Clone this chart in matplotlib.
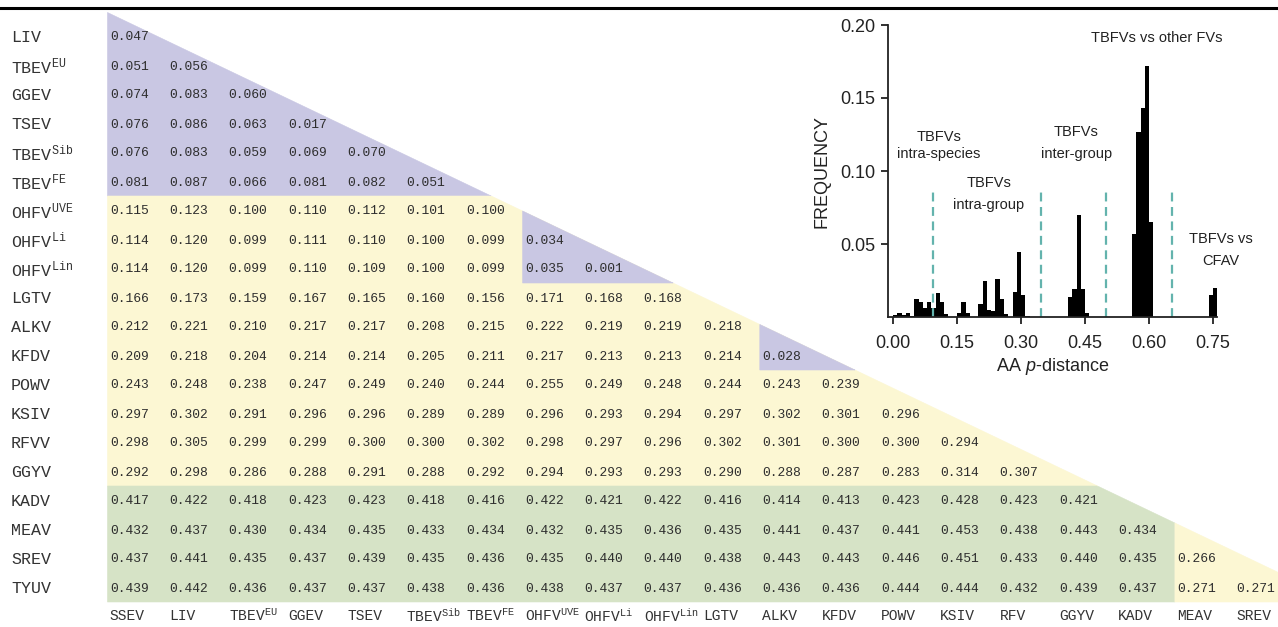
import numpy as np
import matplotlib
matplotlib.use("Agg")
import matplotlib.pyplot as plt

plt.rcParams['font.family'] = ['Liberation Sans', 'DejaVu Sans']
plt.rcParams['mathtext.fontset'] = 'custom'
plt.rcParams['mathtext.rm'] = 'Liberation Sans'
plt.rcParams['mathtext.it'] = 'Liberation Sans:italic'
plt.rcParams['mathtext.tt'] = 'Liberation Mono'

# row / column names of the distance matrix
row_names = ['LIV', 'TBEV$^{\\mathtt{EU}}$', 'GGEV', 'TSEV', 'TBEV$^{\\mathtt{Sib}}$', 'TBEV$^{\\mathtt{FE}}$',
	'OHFV$^{\\mathtt{UVE}}$', 'OHFV$^{\\mathtt{Li}}$', 'OHFV$^{\\mathtt{Lin}}$', 'LGTV', 'ALKV', 'KFDV', 'POWV',
	'KSIV', 'RFVV', 'GGYV', 'KADV', 'MEAV', 'SREV', 'TYUV']
col_names = ['SSEV', 'LIV', 'TBEV$^{\\mathtt{EU}}$', 'GGEV', 'TSEV', 'TBEV$^{\\mathtt{Sib}}$', 'TBEV$^{\\mathtt{FE}}$',
	'OHFV$^{\\mathtt{UVE}}$', 'OHFV$^{\\mathtt{Li}}$', 'OHFV$^{\\mathtt{Lin}}$', 'LGTV', 'ALKV', 'KFDV', 'POWV',
	'KSIV', 'RFV', 'GGYV', 'KADV', 'MEAV', 'SREV']

# lower triangle of AA p-distances, one list per row
p_dist = [
	[0.047],
	[0.051, 0.056],
	[0.074, 0.083, 0.060],
	[0.076, 0.086, 0.063, 0.017],
	[0.076, 0.083, 0.059, 0.069, 0.070],
	[0.081, 0.087, 0.066, 0.081, 0.082, 0.051],
	[0.115, 0.123, 0.100, 0.110, 0.112, 0.101, 0.100],
	[0.114, 0.120, 0.099, 0.111, 0.110, 0.100, 0.099, 0.034],
	[0.114, 0.120, 0.099, 0.110, 0.109, 0.100, 0.099, 0.035, 0.001],
	[0.166, 0.173, 0.159, 0.167, 0.165, 0.160, 0.156, 0.171, 0.168, 0.168],
	[0.212, 0.221, 0.210, 0.217, 0.217, 0.208, 0.215, 0.222, 0.219, 0.219, 0.218],
	[0.209, 0.218, 0.204, 0.214, 0.214, 0.205, 0.211, 0.217, 0.213, 0.213, 0.214, 0.028],
	[0.243, 0.248, 0.238, 0.247, 0.249, 0.240, 0.244, 0.255, 0.249, 0.248, 0.244, 0.243, 0.239],
	[0.297, 0.302, 0.291, 0.296, 0.296, 0.289, 0.289, 0.296, 0.293, 0.294, 0.297, 0.302, 0.301, 0.296],
	[0.298, 0.305, 0.299, 0.299, 0.300, 0.300, 0.302, 0.298, 0.297, 0.296, 0.302, 0.301, 0.300, 0.300, 0.294],
	[0.292, 0.298, 0.286, 0.288, 0.291, 0.288, 0.292, 0.294, 0.293, 0.293, 0.290, 0.288, 0.287, 0.283, 0.314, 0.307],
	[0.417, 0.422, 0.418, 0.423, 0.423, 0.418, 0.416, 0.422, 0.421, 0.422, 0.416, 0.414, 0.413, 0.423, 0.428, 0.423, 0.421],
	[0.432, 0.437, 0.430, 0.434, 0.435, 0.433, 0.434, 0.432, 0.435, 0.436, 0.435, 0.441, 0.437, 0.441, 0.453, 0.438, 0.443, 0.434],
	[0.437, 0.441, 0.435, 0.437, 0.439, 0.435, 0.436, 0.435, 0.440, 0.440, 0.438, 0.443, 0.443, 0.446, 0.451, 0.433, 0.440, 0.435, 0.266],
	[0.439, 0.442, 0.436, 0.437, 0.437, 0.438, 0.436, 0.438, 0.437, 0.437, 0.436, 0.436, 0.436, 0.444, 0.444, 0.432, 0.439, 0.437, 0.271, 0.271],
]

# shaded groups: (first row, last row + 1, first col, last col + 1, colour)
groups = [
	(-1, 6, 0, 20, '#c9c7e3'),
	(6, 16, 0, 20, '#fcf7d3'),
	(6, 9, 7, 20, '#c9c7e3'),
	(10, 12, 11, 20, '#c9c7e3'),
	(16, 20, 0, 18, '#d6e3c6'),
	(16, 20, 18, 20, '#fcf7d3'),
]

# inset histogram (bin left edge, frequency)
hist_left = [0.00, 0.01, 0.02, 0.03, 0.04, 0.05, 0.06, 0.07, 0.08, 0.09, 0.10, 0.11, 0.12,
	0.15, 0.16, 0.17, 0.20, 0.21, 0.22, 0.23, 0.24, 0.25, 0.26, 0.28, 0.29, 0.30, 0.31,
	0.41, 0.42, 0.43, 0.44, 0.45, 0.56, 0.57, 0.58, 0.59, 0.60, 0.74, 0.75]
hist_freq = [0.0015, 0.0027, 0.0015, 0.003, 0.001, 0.012, 0.0105, 0.0065, 0.010, 0.006, 0.0167, 0.0105, 0.002,
	0.003, 0.0105, 0.003, 0.009, 0.0247, 0.005, 0.004, 0.026, 0.012, 0.002, 0.017, 0.0447, 0.015, 0.001,
	0.0137, 0.019, 0.070, 0.019, 0.003, 0.057, 0.127, 0.143, 0.172, 0.065, 0.015, 0.020]
cutoffs = [0.094, 0.347, 0.499, 0.654]
region_labels = ['TBFVs vs other FVs', 'TBFVs\nintra-species', 'TBFVs\nintra-group', 'TBFVs\ninter-group', 'TBFVs vs\nCFAV']


def draw_table(fig):
	W, H = 1278.0, 627.0
	cw, rh = 59.3, 29.0
	x0, top, bottom = 107.0, 12.0, 601.5
	ax = fig.add_axes([x0 / W, 1 - bottom / H, (W - x0) / W, (bottom - top) / H])
	ax.set_xlim(0, (W - x0) / cw)
	ymin = -(21.5 - top) / rh
	ax.set_ylim(20, ymin)
	ax.axis('off')

	slope = 0.978
	for r0, r1, c0, c1, col in groups:
		x = np.linspace(c0, c1, 600)
		y_top = np.maximum(r0, ymin + slope * x)
		ax.fill_between(x, y_top, r1, where=y_top < r1, interpolate=True, color=col, lw=0.4, ec=col)

	mono = 'Liberation Mono'
	for i, row in enumerate(p_dist):
		for j, v in enumerate(row):
			ax.text(j + 0.05, i + 0.5, '%.3f' % v, ha='left', va='center_baseline',
				fontsize=9.4, family=mono, color='#2e2e2e')
	for i, name in enumerate(row_names):
		ax.text(-1.62, i + 0.5, name, ha='left', va='center_baseline', fontsize=12, family=mono, color='#333333')
	for j, name in enumerate(col_names):
		ax.text(j + 0.05, 20.45, name, ha='left', va='center_baseline', fontsize=10.5, family=mono, color='#333333')


def draw_inset(fig):
	W, H = 1278.0, 627.0
	ax = fig.add_axes([888 / W, 1 - 317 / H, (1217 - 888) / W, (317 - 25) / H])
	ax.patch.set_alpha(0)
	ax.bar(hist_left, hist_freq, width=0.01, align='edge', color='black', lw=0)
	ax.vlines(cutoffs, 0, 0.088, colors='#63b3ad', linestyles=(0, (4, 2.5)), lw=1.6)
	ax.set_xlim(-0.0117, 0.759)
	ax.set_ylim(0, 0.20)
	for s in ['top', 'right']:
		ax.spines[s].set_visible(False)
	for s in ['left', 'bottom']:
		ax.spines[s].set_linewidth(1.3)
		ax.spines[s].set_color('#222222')
	ax.set_xticks([0, 0.15, 0.30, 0.45, 0.60, 0.75])
	ax.set_xticklabels(['0.00', '0.15', '0.30', '0.45', '0.60', '0.75'])
	ax.set_yticks([0.05, 0.10, 0.15, 0.20])
	ax.set_yticklabels(['0.05', '0.10', '0.15', '0.20'])
	ax.tick_params(labelsize=13, length=5, width=1.3, pad=4, colors='#222222')
	ax.tick_params(axis='x', pad=8)
	ax.set_ylabel('FREQUENCY', fontsize=13, labelpad=7, color='#222222')
	ax.set_xlabel('AA $\\mathit{p}$-distance', fontsize=13, labelpad=3, color='#222222')

	pos = [(0.617, 0.191, 1.2), (0.108, 0.1175, 1.2), (0.225, 0.084, 1.75), (0.429, 0.119, 1.75), (0.769, 0.046, 1.75)]
	for txt, (x, y, ls) in zip(region_labels, pos):
		ax.text(x, y, txt, ha='center', va='center', fontsize=10.5, linespacing=ls, color='#222222')


def main():
	fig = plt.figure(figsize=(12.78, 6.27), dpi=100)
	draw_table(fig)
	draw_inset(fig)
	fig.add_artist(plt.Line2D([0, 1], [1 - 8 / 627.0] * 2, transform=fig.transFigure, color='black', lw=2.2))
	fig.savefig('out.png', dpi=100)


if __name__ == "__main__":
	main()
